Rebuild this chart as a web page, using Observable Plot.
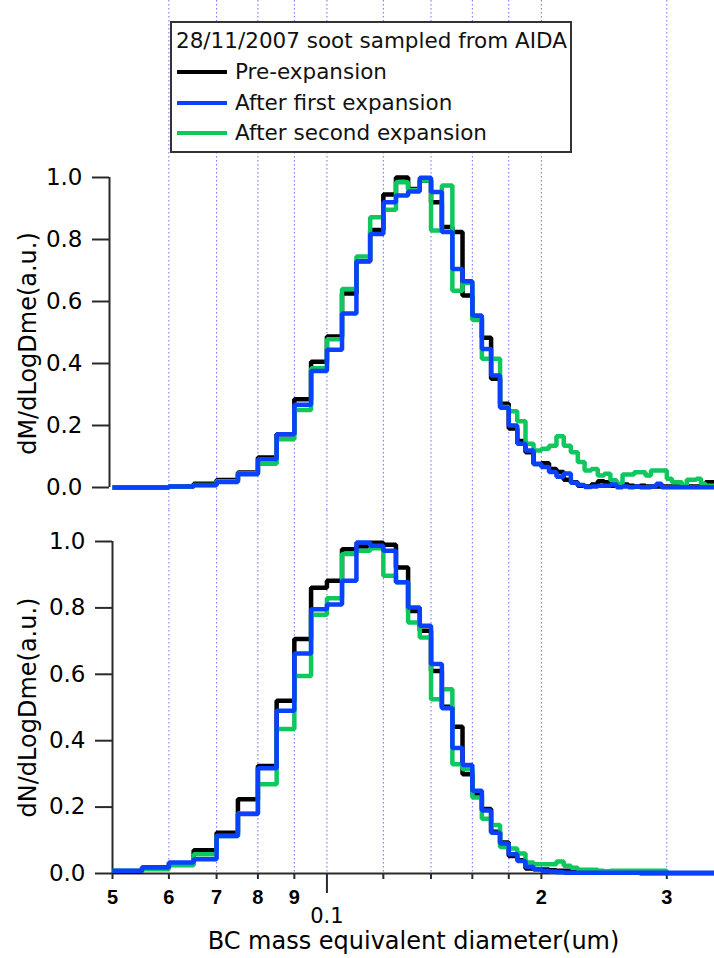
<!DOCTYPE html>
<html><head><meta charset="utf-8">
<script src="https://cdn.jsdelivr.net/npm/d3@7"></script>
<script src="https://cdn.jsdelivr.net/npm/@observablehq/plot@0.6"></script>
<style>
html,body{margin:0;padding:0;background:#fff;}
#page{position:relative;width:714px;height:958px;overflow:hidden;font-family:"DejaVu Sans",sans-serif;}
#topPanel,#bottomPanel{position:absolute;left:0;}
#topPanel{top:0;} #bottomPanel{top:510px;}
#legend{position:absolute;left:170px;top:21px;width:398px;height:128px;border:2px solid #333;background:#fff;font-size:21.5px;color:#111;}
.lg{position:absolute;white-space:nowrap;line-height:24px;height:24px;}
.sw{position:absolute;height:4px;width:50px;}
</style></head><body>
<div id="page"><div id="topPanel"></div><div id="bottomPanel"></div><div id="legend"></div></div>
<script>
// Bin edges (um): left edge of each 0.005 um bin, plus the final right edge
const binEdges = [0.050,0.055,0.060,0.065,0.070,0.075,0.080,0.085,0.090,0.095,
  0.100,0.105,0.110,0.115,0.120,0.125,0.130,0.135,0.140,0.145,
  0.150,0.155,0.160,0.165,0.170,0.175,0.180,0.185,0.190,0.195,
  0.200,0.205,0.210,0.215,0.220,0.225,0.230,0.235,0.240,0.245,
  0.250,0.255,0.260,0.265,0.270,0.275,0.280,0.285,0.290,0.295,
  0.300,0.305,0.310,0.315,0.320,0.325,0.330,0.335,0.340,0.345,0.350];

const seriesNames = ["Pre-expansion", "After first expansion", "After second expansion"];
const seriesColors = ["#000000", "#0a40ff", "#0ec85e"];
const legendTitle = "28/11/2007 soot sampled from AIDA";

// Upper panel: dM/dLogDme
const dM_pre = [0.000,0.000,0.003,0.012,0.024,0.048,0.097,0.172,0.285,0.406,
  0.487,0.626,0.730,0.831,0.945,1.000,0.963,0.990,0.920,0.840,
  0.824,0.619,0.545,0.483,0.351,0.270,0.190,0.150,0.114,0.076,
  0.078,0.060,0.050,0.025,0.017,0.006,0.003,0.010,0.020,0.017,
  0.006,0.003,0.010,0.006,0.003,0.006,0.003,0.003,0.003,0.003,
  0.003,0.003,0.003,0.003,0.003,0.003,0.003,0.003,0.017,0.017];
const dM_first = [0.000,0.000,0.003,0.007,0.018,0.043,0.091,0.172,0.267,0.376,
  0.444,0.561,0.730,0.818,0.920,0.942,0.955,0.999,0.953,0.824,
  0.705,0.665,0.555,0.447,0.361,0.257,0.200,0.141,0.119,0.076,
  0.066,0.050,0.035,0.045,0.015,0.008,0.002,0.003,0.006,0.006,
  0.010,0.001,0.003,0.001,0.003,0.001,0.001,0.003,0.012,0.001,
  0.001,0.001,0.001,0.001,0.001,0.001,0.001,0.001,0.001,0.001];
const dM_second = [0.000,0.000,0.003,0.008,0.020,0.045,0.077,0.156,0.250,0.385,
  0.478,0.640,0.745,0.872,0.896,0.985,0.960,0.990,0.829,0.974,
  0.635,0.660,0.540,0.415,0.415,0.260,0.246,0.214,0.141,0.119,
  0.125,0.135,0.165,0.135,0.114,0.082,0.055,0.060,0.039,0.044,
  0.023,0.012,0.042,0.042,0.049,0.049,0.039,0.055,0.055,0.055,
  0.028,0.017,0.017,0.006,0.025,0.025,0.028,0.012,0.006,0.006];

// Lower panel: dN/dLogDme
const dN_pre = [0.006,0.018,0.030,0.070,0.123,0.224,0.324,0.520,0.706,0.861,
  0.882,0.977,0.985,0.996,0.990,0.922,0.791,0.731,0.610,0.502,
  0.442,0.299,0.239,0.194,0.126,0.093,0.053,0.040,0.015,0.013,
  0.012,0.010,0.008,0.008,0.006,0.006,0.006,0.006,0.005,0.005,
  0.003,0.003,0.003,0.003,0.003,0.001,0.001,0.001,0.001,0.001,
  0.001,0.001,0.001,0.001,0.001,0.001,0.001,0.001,0.001,0.001];
const dN_first = [0.008,0.018,0.033,0.043,0.113,0.179,0.317,0.490,0.663,0.796,
  0.810,0.882,0.997,0.987,0.972,0.877,0.801,0.746,0.631,0.498,
  0.378,0.327,0.249,0.190,0.123,0.090,0.058,0.038,0.020,0.013,
  0.008,0.006,0.004,0.002,0.002,0.002,0.002,0.002,0.002,0.002,
  0.002,0.002,0.002,0.002,0.002,0.002,0.002,0.002,0.002,0.002,
  0.002,0.002,0.002,0.002,0.002,0.002,0.002,0.002,0.002,0.002];
const dN_second = [0.008,0.013,0.025,0.058,0.113,0.181,0.269,0.435,0.595,0.779,
  0.829,0.962,0.972,0.980,0.897,0.877,0.756,0.711,0.525,0.555,
  0.329,0.314,0.229,0.165,0.146,0.080,0.075,0.060,0.033,0.028,
  0.028,0.028,0.036,0.023,0.017,0.011,0.011,0.011,0.008,0.006,
  0.008,0.008,0.008,0.008,0.008,0.008,0.008,0.008,0.008,0.008,
  0.001,0.001,0.001,0.001,0.001,0.001,0.001,0.001,0.001,0.001];

// Axes
const yTicks = [0, 0.2, 0.4, 0.6, 0.8, 1.0];
const gridX = [0.06, 0.07, 0.08, 0.09, 0.1, 0.12, 0.14, 0.16, 0.18, 0.2, 0.3];
const xMinorTicks = [0.05, 0.06, 0.07, 0.08, 0.09, 0.12, 0.14, 0.16, 0.18, 0.2, 0.3];
const xMinorLabels = ["5", "6", "7", "8", "9", "", "", "", "", "2", "3"];
const xMajorTicks = [0.1];
const xMajorLabels = ["0.1"];
const xTitle = "BC mass equivalent diameter(um)";
const yTitleTop = "dM/dLogDme(a.u.)";
const yTitleBottom = "dN/dLogDme(a.u.)";

function toRows(values, name) {
  const rows = values.map((v, i) => ({x: binEdges[i], y: v, name}));
  rows.push({x: binEdges[values.length], y: values[values.length - 1], name});
  return rows;
}

const xDomain = [binEdges[0], binEdges[binEdges.length - 1]];
const gridColor = "#6e6eff";
const gridDash = "1.5,2.5";
const axisColor = "#2a2a2a";

function curves(series) {
  // draw order: black, green, blue (blue on top)
  const order = [0, 2, 1];
  return order.map(k => Plot.line(toRows(series[k], seriesNames[k]), {
    x: "x", y: "y", curve: "step-after", stroke: seriesColors[k],
    strokeWidth: 4.5, strokeLinejoin: "miter", strokeLinecap: "butt"
  }));
}

const commonStyle = {fontFamily: "DejaVu Sans", fontSize: "23px", color: "#000", background: "transparent", overflow: "visible"};

const topChart = Plot.plot({
  width: 714, height: 510,
  marginLeft: 112, marginRight: 0, marginTop: 177, marginBottom: 23,
  style: commonStyle,
  x: {type: "log", domain: xDomain, axis: null},
  y: {domain: [0, 1], axis: null},
  marks: [
    Plot.ruleX(gridX, {stroke: gridColor, strokeWidth: 1, strokeDasharray: gridDash, insetTop: -177, insetBottom: -23}),
    Plot.ruleX([xDomain[0]], {y1: 0, y2: 1, dx: -3, stroke: axisColor, strokeWidth: 2}),
    Plot.axisY({ticks: yTicks, tickSize: 17, tickPadding: 10, tickFormat: d3.format(".1f"), fontSize: 23, dx: -3, strokeWidth: 2, stroke: axisColor, label: null}),
    Plot.text([yTitleTop], {frameAnchor: "left", dx: -84, dy: 11, rotate: -90, fontSize: 24, textAnchor: "middle"}),
    ...curves([dM_pre, dM_first, dM_second])
  ]
});
document.getElementById("topPanel").appendChild(topChart);

const bottomChart = Plot.plot({
  width: 714, height: 448,
  marginLeft: 112, marginRight: 0, marginTop: 31, marginBottom: 85,
  style: commonStyle,
  x: {type: "log", domain: xDomain, axis: null},
  y: {domain: [0, 1], axis: null},
  marks: [
    Plot.ruleX(gridX, {stroke: gridColor, strokeWidth: 1, strokeDasharray: gridDash, insetTop: -31}),
    Plot.ruleX([xDomain[0]], {y1: 0, y2: 1, stroke: axisColor, strokeWidth: 2}),
    Plot.ruleY([0], {stroke: axisColor, strokeWidth: 2}),
    Plot.axisY({ticks: yTicks, tickSize: 17, tickPadding: 10, tickFormat: d3.format(".1f"), fontSize: 23, strokeWidth: 2, stroke: axisColor, label: null}),
    Plot.axisX({ticks: xMinorTicks, tickSize: 6, tickPadding: 10, tickFormat: d => xMinorLabels[xMinorTicks.indexOf(d)],
      fontSize: 20, fontWeight: "bold", fontFamily: "Liberation Sans", strokeWidth: 2, stroke: axisColor, label: null}),
    Plot.axisX({ticks: xMajorTicks, tickSize: 20, tickPadding: 15, tickFormat: d => xMajorLabels[xMajorTicks.indexOf(d)],
      fontSize: 21, strokeWidth: 2, stroke: axisColor, label: null}),
    Plot.text([yTitleBottom], {frameAnchor: "left", dx: -84, rotate: -90, fontSize: 24, textAnchor: "middle"}),
    Plot.text([xTitle], {frameAnchor: "bottom", dy: 68, fontSize: 24, textAnchor: "middle", lineAnchor: "middle"}),
    ...curves([dN_pre, dN_first, dN_second])
  ]
});
document.getElementById("bottomPanel").appendChild(bottomChart);

// Legend (boxed, overlapping the gridlines like the original)
const lg = document.getElementById("legend");
const titleEl = document.createElement("div");
titleEl.className = "lg"; titleEl.style.left = "4px"; titleEl.style.top = "6px";
titleEl.textContent = legendTitle;
lg.appendChild(titleEl);
const rowTops = [37, 68, 98];
seriesNames.forEach((name, i) => {
  const sw = document.createElement("div");
  sw.className = "sw"; sw.style.left = "5px"; sw.style.top = (rowTops[i] + 10) + "px";
  sw.style.background = seriesColors[i];
  lg.appendChild(sw);
  const t = document.createElement("div");
  t.className = "lg"; t.style.left = "63px"; t.style.top = rowTops[i] + "px";
  t.textContent = name;
  lg.appendChild(t);
});
</script>
</body></html>
